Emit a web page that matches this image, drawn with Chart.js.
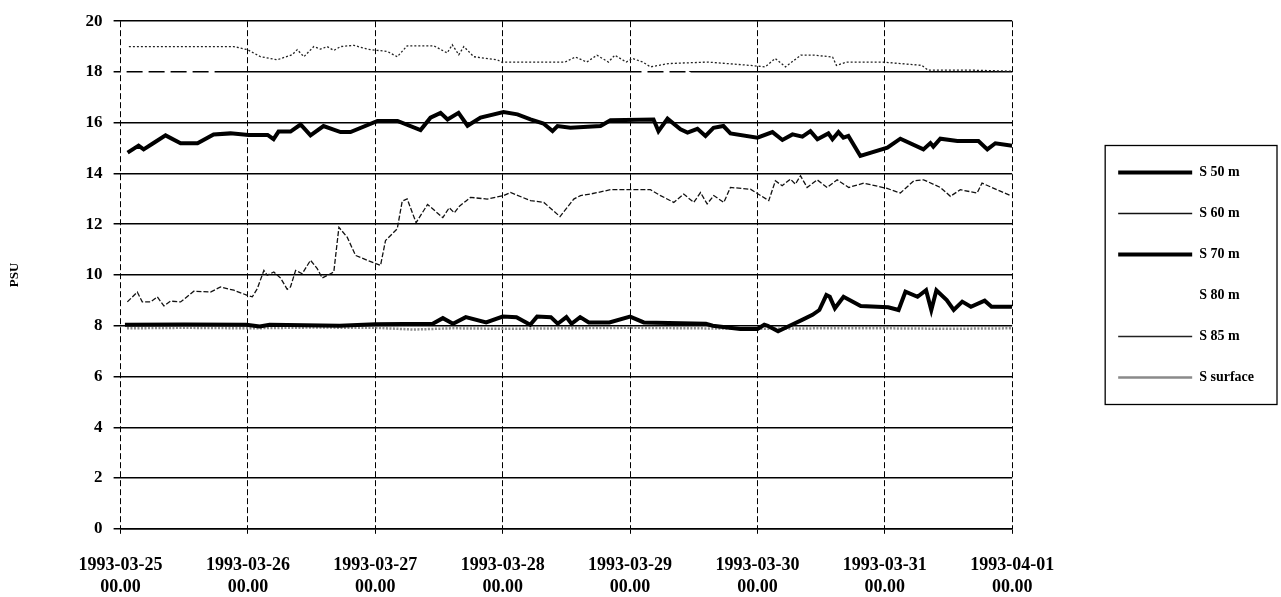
<!DOCTYPE html>
<html>
<head>
<meta charset="utf-8">
<script src="https://cdn.jsdelivr.net/npm/chart.js@4.4.0/dist/chart.umd.min.js"></script>
<style>
  html, body { margin:0; padding:0; background:#fff; }
  #wrap { width:1281px; height:597px; }
</style>
</head>
<body>
<div id="wrap"><canvas id="salChart" width="1281" height="597"></canvas></div>
<script>
// days since 1993-03-25 00.00, salinity in PSU
const tickDates = ['1993-03-25','1993-03-26','1993-03-27','1993-03-28','1993-03-29','1993-03-30','1993-03-31','1993-04-01'];
const tickTimes = ['00.00','00.00','00.00','00.00','00.00','00.00','00.00','00.00'];

const s50Days = [0.055,0.141,0.181,0.259,0.353,0.471,0.604,0.730,0.863,1.005,1.154,1.201,1.240,1.334,1.413,1.491,1.593,1.727,1.805,2.017,2.174,2.355,2.433,2.512,2.567,2.653,2.724,2.826,3.006,3.116,3.218,3.320,3.391,3.430,3.532,3.768,3.846,4.184,4.223,4.294,4.396,4.451,4.529,4.592,4.655,4.733,4.788,5.0,5.118,5.196,5.275,5.353,5.416,5.471,5.557,5.589,5.636,5.675,5.714,5.808,6.020,6.122,6.303,6.358,6.381,6.436,6.570,6.735,6.805,6.868,7.0];
const s50Vals = [14.82,15.1,14.95,15.2,15.5,15.19,15.19,15.54,15.58,15.52,15.52,15.35,15.65,15.65,15.93,15.5,15.87,15.63,15.63,16.07,16.07,15.71,16.2,16.39,16.13,16.39,15.88,16.2,16.42,16.33,16.13,15.97,15.67,15.87,15.8,15.87,16.1,16.13,15.67,16.16,15.74,15.61,15.76,15.48,15.8,15.87,15.58,15.41,15.63,15.32,15.54,15.45,15.67,15.35,15.58,15.35,15.63,15.41,15.48,14.69,15.02,15.37,14.95,15.2,15.06,15.37,15.28,15.28,14.95,15.19,15.09];

const s60Days = [0.053,0.131,0.170,0.235,0.288,0.340,0.392,0.471,0.575,0.706,0.785,0.889,0.995,1.034,1.073,1.125,1.151,1.203,1.256,1.308,1.334,1.374,1.426,1.491,1.544,1.583,1.648,1.674,1.714,1.779,1.845,1.936,2.041,2.080,2.172,2.211,2.25,2.32,2.41,2.53,2.58,2.62,2.66,2.71,2.747,2.878,3.009,3.061,3.218,3.323,3.45,3.558,3.611,3.689,3.846,4.16,4.239,4.343,4.421,4.5,4.553,4.605,4.657,4.736,4.788,4.945,5.089,5.141,5.194,5.259,5.298,5.338,5.39,5.469,5.547,5.626,5.717,5.834,6.018,6.122,6.227,6.305,6.436,6.515,6.593,6.725,6.763,6.986];
const s60Vals = [8.94,9.33,8.94,8.94,9.14,8.78,8.97,8.94,9.36,9.33,9.53,9.40,9.20,9.14,9.46,10.18,9.99,10.12,9.88,9.44,9.53,10.18,10.05,10.58,10.25,9.88,10.05,10.12,11.88,11.49,10.77,10.58,10.38,11.36,11.82,12.91,13.0,12.06,12.78,12.26,12.65,12.45,12.71,12.91,13.06,12.99,13.13,13.25,12.93,12.86,12.3,12.99,13.13,13.19,13.36,13.36,13.13,12.86,13.19,12.86,13.25,12.8,13.13,12.86,13.45,13.38,12.93,13.71,13.52,13.78,13.58,13.91,13.45,13.75,13.45,13.75,13.45,13.62,13.41,13.23,13.71,13.75,13.45,13.1,13.36,13.23,13.62,13.13];

const s70Days = [0.034,0.5,0.988,1.092,1.17,1.72,2.0,2.45,2.53,2.61,2.71,2.87,3.0,3.108,3.216,3.27,3.378,3.432,3.5,3.54,3.608,3.676,3.838,4.0,4.108,4.595,4.649,4.865,5.0,5.054,5.081,5.162,5.27,5.351,5.432,5.486,5.541,5.568,5.608,5.676,5.811,6.027,6.108,6.162,6.257,6.324,6.365,6.405,6.486,6.541,6.608,6.676,6.784,6.838,7.0];
const s70Vals = [8.04,8.05,8.04,7.97,8.04,8.0,8.06,8.08,8.3,8.08,8.34,8.13,8.36,8.34,8.04,8.36,8.34,8.08,8.34,8.08,8.34,8.13,8.13,8.36,8.13,8.08,8.0,7.87,7.87,8.04,8.0,7.78,8.04,8.23,8.43,8.62,9.21,9.14,8.69,9.14,8.78,8.73,8.62,9.34,9.14,9.40,8.62,9.40,9.01,8.62,8.95,8.75,8.99,8.75,8.75];

const s80Days = [0.0,0.8,0.9,3.95,4.05,4.45,4.55,7.0];
const s80Vals = [18.0,18.0,17.6,17.6,18.0,18.0,17.6,17.6];

const s85Days = [0.065,0.889,0.995,1.099,1.23,1.348,1.387,1.439,1.517,1.57,1.622,1.674,1.727,1.831,1.936,2.015,2.093,2.172,2.25,2.459,2.564,2.604,2.655,2.695,2.773,2.957,2.99,3.49,3.57,3.66,3.74,3.83,3.88,3.97,4.02,4.1,4.16,4.3,4.61,4.94,5.06,5.14,5.22,5.34,5.45,5.59,5.62,5.7,5.98,6.29,6.34,6.68,7.0];
const s85Vals = [19.0,19.0,18.88,18.6,18.48,18.68,18.88,18.6,19.0,18.9,19.0,18.85,19.0,19.05,18.9,18.85,18.81,18.6,19.03,19.03,18.75,19.07,18.68,19.0,18.6,18.48,18.39,18.39,18.59,18.39,18.66,18.39,18.66,18.39,18.53,18.39,18.2,18.33,18.39,18.26,18.2,18.53,18.2,18.66,18.66,18.59,18.26,18.39,18.39,18.26,18.07,18.07,18.03];

const sSurfDays = [0.05,0.5,1.0,1.5,2.0,2.3,2.6,3.0,3.5,4.0,4.5,5.0,5.5,6.0,6.5,7.0];
const sSurfVals = [7.9,7.92,7.9,7.93,7.92,7.85,7.9,7.88,7.9,7.92,7.9,7.88,7.9,7.9,7.88,7.9];

const pts = (xs, ys) => xs.map((x, i) => ({ x: x, y: ys[i] }));
const serif = '"Liberation Serif", "Times New Roman", serif';

const series = [
  { label:'S 50 m', data:pts(s50Days, s50Vals), borderColor:'#000', borderWidth:4, borderDash:[] },
  { label:'S 60 m', data:pts(s60Days, s60Vals), borderColor:'#111', borderWidth:1.3, borderDash:[5,2] },
  { label:'S 70 m', data:pts(s70Days, s70Vals), borderColor:'#000', borderWidth:4, borderDash:[] },
  { label:'S 80 m', data:pts(s80Days, s80Vals), borderColor:'#fff', borderWidth:3, borderDash:[6,16] },
  { label:'S 85 m', data:pts(s85Days, s85Vals), borderColor:'#222', borderWidth:1.3, borderDash:[2,2] },
  { label:'S surface', data:pts(sSurfDays, sSurfVals), borderColor:'#8a8a8a', borderWidth:2.5, borderDash:[2,1.5] }
];
series.forEach(s => { s.pointRadius = 0; s.tension = 0; s.fill = false; s.spanGaps = true; });

const legendFrame = {
  id:'legendFrame',
  afterDraw(chart){
    const lg = chart.legend;
    if (!lg || !lg.legendHitBoxes.length) return;
    const hb = lg.legendHitBoxes;
    const top = hb[0].top - 20, bot = hb[hb.length-1].top + hb[hb.length-1].height + 20;
    const ctx = chart.ctx;
    ctx.save();
    ctx.strokeStyle = '#000'; ctx.lineWidth = 1.3; ctx.setLineDash([]);
    ctx.strokeRect(hb[0].left - 13, top, 1277 - (hb[0].left - 13), bot - top);
    ctx.restore();
  }
};

new Chart(document.getElementById('salChart').getContext('2d'), {
  type:'line',
  data:{ datasets: series },
  plugins:[legendFrame],
  options:{
    responsive:false, animation:false,
    layout:{ padding:{ left:7, right:17, top:7, bottom:-22 } },
    plugins:{
      tooltip:{ enabled:false },
      legend:{
        position:'right', fullSize:false,
        labels:{ usePointStyle:true, pointStyle:'line', pointStyleWidth:74, boxHeight:14, padding:27, color:'#000', font:{ family:serif, size:14, weight:'bold' } }
      }
    },
    scales:{
      x:{
        type:'linear', min:0, max:7,
        ticks:{ stepSize:1, autoSkip:false, maxRotation:0, color:'#000', padding:21, font:{ family:serif, size:18, weight:'bold' },
          callback:(v) => Number.isInteger(v) ? [tickDates[v], tickTimes[v]] : '' },
        grid:{ color:'#000', lineWidth:1, tickLength:5 },
        border:{ display:true, color:'#000', width:1.5, dash:[6,3] }
      },
      y:{
        min:0, max:20,
        ticks:{ stepSize:2, color:'#000', padding:11, font:{ family:serif, size:17, weight:'bold' } },
        grid:{ color:'#000', lineWidth:1.5, tickLength:7 },
        border:{ display:false },
        title:{ display:true, text:'PSU', color:'#000', padding:{ top:0, bottom:52 }, font:{ family:serif, size:13, weight:'bold' } }
      },
      gap:{
        type:'linear', position:'right', display:true,
        grid:{ display:false }, ticks:{ display:false }, border:{ display:false },
        afterFit:(s) => { s.width = 79; }
      }
    }
  }
});
</script>
</body>
</html>
